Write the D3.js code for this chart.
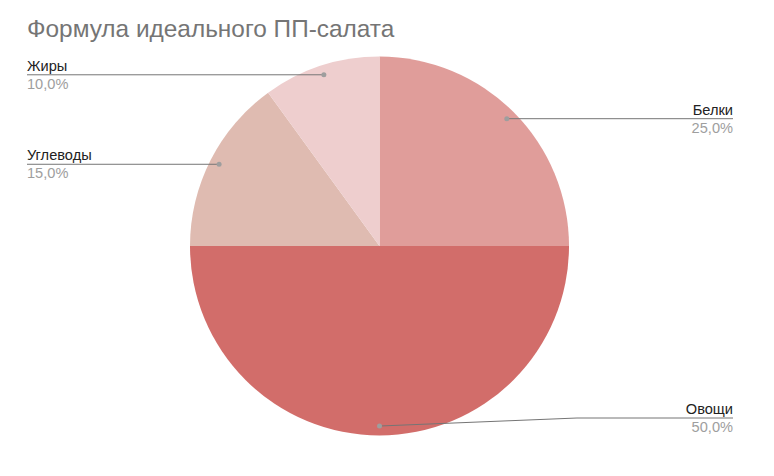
<!DOCTYPE html>
<html>
<head>
<meta charset="utf-8">
<script src="https://cdn.jsdelivr.net/npm/d3@7"></script>
<style>
  body { margin: 0; background: #fff; }
  text { font-family: Arial, "Liberation Sans", sans-serif; }
</style>
</head>
<body>
<div id="main"></div>
<script>
// данные диаграммы
const categories = ["Белки", "Овощи", "Углеводы", "Жиры"];
const shares = [25, 50, 15, 10];
const palette = ["#e09d9a", "#d26d6a", "#dfbbb1", "#eecece"];

const width = 774, height = 476;
const cx = 379.5, cy = 246, radius = 189.5;

const svg = d3.select("#main")
  .append("svg")
  .attr("width", width)
  .attr("height", height);

svg.append("text")
  .attr("x", 27)
  .attr("y", 37)
  .style("font-size", "24.4px")
  .attr("fill", "#757575")
  .text("Формула идеального ПП-салата");

const data = categories.map((c, i) => ({ name: c, value: shares[i], color: palette[i] }));

const pie = d3.pie().sort(null).value(d => d.value);
const arcs = pie(data);

const arc = d3.arc().innerRadius(0).outerRadius(radius);
const dotArc = d3.arc().innerRadius(radius * 0.95).outerRadius(radius * 0.95);

const g = svg.append("g").attr("transform", `translate(${cx},${cy})`);

g.selectAll("path")
  .data(arcs)
  .enter()
  .append("path")
  .attr("d", arc)
  .attr("fill", d => d.data.color);

const fmt = v => v.toFixed(1).replace(".", ",") + "%";
const total = d3.sum(shares);

const labels = svg.append("g");

arcs.forEach(d => {
  const [px, py] = dotArc.centroid(d);
  const x0 = cx + px, y0 = cy + py;
  const mid = (d.startAngle + d.endAngle) / 2;
  const right = mid <= Math.PI + 1e-6;
  const lineY = Math.min(y0, 418);
  const endX = right ? 733 : 27;

  // линия выноски
  let pts;
  if (lineY !== y0) {
    pts = [[x0, y0], [577, lineY], [endX, lineY]];
  } else {
    pts = [[x0, y0], [endX, lineY]];
  }
  labels.append("path")
    .attr("d", d3.line()(pts))
    .attr("fill", "none")
    .attr("stroke", "#757575")
    .attr("stroke-width", 1);

  labels.append("circle")
    .attr("cx", x0)
    .attr("cy", y0)
    .attr("r", 2.5)
    .attr("fill", "#9e9e9e");

  labels.append("text")
    .attr("x", endX)
    .attr("y", lineY - 4)
    .attr("text-anchor", right ? "end" : "start")
    .style("font-size", "14.6px")
    .attr("fill", "#222")
    .text(d.data.name);

  labels.append("text")
    .attr("x", endX)
    .attr("y", lineY + 14)
    .attr("text-anchor", right ? "end" : "start")
    .style("font-size", "14.6px")
    .attr("fill", "#9e9e9e")
    .text(fmt(d.data.value / total * 100));
});
</script>
</body>
</html>
